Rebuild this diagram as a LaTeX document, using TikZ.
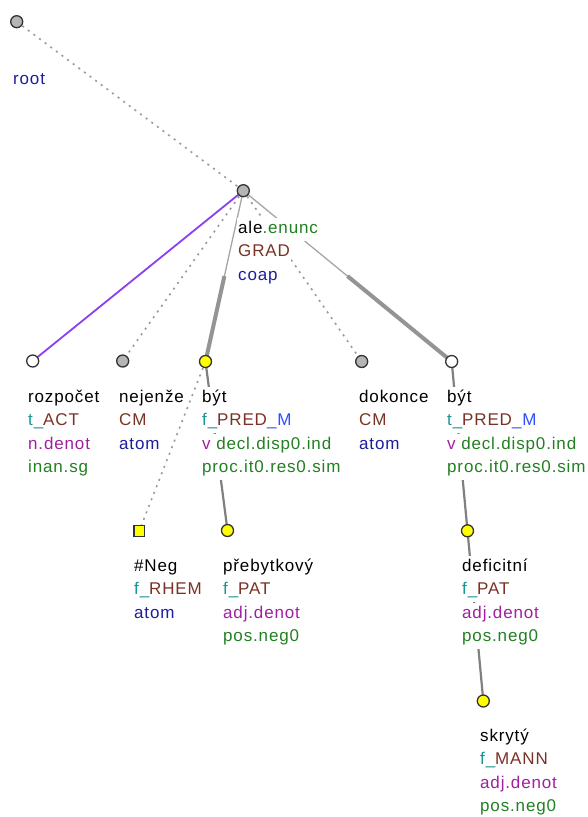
\documentclass[tikz,border=0pt]{standalone}
\usepackage{fontspec}
\setmainfont[LetterSpace=5.0]{Liberation Sans}
\usetikzlibrary{calc}
\definecolor{cteal}{HTML}{1A9494}
\definecolor{cbrown}{HTML}{7A3226}
\definecolor{cnavy}{HTML}{1E1E9C}
\definecolor{cpurple}{HTML}{A020A0}
\definecolor{cgreen}{HTML}{238023}
\definecolor{cblue}{HTML}{2F4FFF}
\definecolor{cedge}{HTML}{8A3FF0}
\definecolor{cgfill}{HTML}{B5B5B5}
\definecolor{cyfill}{HTML}{FFFF00}
\pgfdeclarelayer{bg}
\pgfsetlayers{bg,main}
\begin{document}
\begin{tikzpicture}[x=1pt,y=-1pt,
  tnode/.style={circle,minimum size=12pt,inner sep=0pt,draw=black!80,line width=1.3pt},
  gnode/.style={tnode,fill=cgfill},
  wnode/.style={tnode,fill=white},
  ynode/.style={tnode,fill=cyfill},
  ysq/.style={rectangle,minimum size=10.5pt,inner sep=0pt,draw=black!80,line width=1.2pt,fill=cyfill},
  lbl/.style={anchor=base west,fill=white,inner xsep=1pt,inner ysep=2.5pt,text height=13pt,text depth=5pt,font=\fontsize{17}{20}\selectfont},
  dotedge/.style={draw=black!40,line width=1.6pt,dash pattern=on 2pt off 5pt},
  purpedge/.style={draw=cedge,line width=1.8pt},
  thinedge/.style={draw=black!35,line width=1.3pt},
  thickedge/.style={draw=black!42,line width=4pt},
  medge/.style={draw=black!50,line width=2.2pt}
]
\useasboundingbox (0,0) rectangle (588,817);
% tree nodes
\node[gnode] (root) at (16.7,21.7) {};
\node[gnode] (ale) at (243.3,190.7) {};
\node[wnode] (roz) at (32.7,361) {};
\node[gnode] (nej) at (122.7,361) {};
\node[ynode] (byt1) at (205.5,361.5) {};
\node[gnode] (dok) at (361.7,361.5) {};
\node[wnode] (byt2) at (451.7,361.5) {};
\node[ysq] (neg) at (139.2,531) {};
\node[ynode] (preb) at (227.5,530.5) {};
\node[ynode] (def) at (467.5,530.8) {};
\node[ynode] (skr) at (483.3,701) {};
% edges
\begin{pgfonlayer}{bg}
\fill[white] (0,0) rectangle (588,817);
\draw[dotedge] (root.center) -- (ale.center);
\draw[purpedge] (ale.center) -- (roz.center);
\draw[dotedge] (ale.center) -- (nej.center);
\coordinate (m1) at ($(ale)!0.5!(byt1)$);
\draw[thinedge] (ale.center) -- (m1);
\draw[thickedge] (m1) -- (byt1.center);
\draw[dotedge] (ale.center) -- (dok.center);
\coordinate (m2) at ($(ale)!0.5!(byt2)$);
\draw[thinedge] (ale.center) -- (m2);
\draw[thickedge] (m2) -- (byt2.center);
\draw[dotedge] (byt1.center) -- (neg.center);
\draw[medge] (byt1.center) -- (preb.center);
\draw[medge] (byt2.center) -- (def.center);
\draw[medge] (def.center) -- (skr.center);
\end{pgfonlayer}
% labels
\node[lbl] (lroot) at (12,84) {\color{cnavy}root};
\node[lbl] (lale1) at (237,233) {ale{\color{cgreen}.enunc}};
\node[lbl] (lale2) at (237,256.5) {\color{cbrown}GRAD};
\node[lbl] (lale3) at (237,280) {\color{cnavy}coap};
% row 1
\node[lbl] (lroz1) at (27,402) {rozpočet};
\node[lbl] (lroz2) at (27,425.5) {{\color{cteal}t\_}{\color{cbrown}ACT}};
\node[lbl] (lroz3) at (27,449) {\color{cpurple}n.denot};
\node[lbl] (lroz4) at (27,472.5) {\color{cgreen}inan.sg};
\node[lbl] (lnej1) at (118,402) {nejenže};
\node[lbl] (lnej2) at (118,425.5) {\color{cbrown}CM};
\node[lbl] (lnej3) at (118,449) {\color{cnavy}atom};
\node[lbl] (lbya1) at (201,402) {být};
\node[lbl] (lbya2) at (201,425.5) {{\color{cteal}f\_}{\color{cbrown}PRED}{\color{cblue}\_M}};
\node[lbl] (lbya3) at (201,449) {{\color{cpurple}v} {\color{cgreen}decl.disp0.ind}};
\node[lbl] (lbya4) at (201,472.5) {\color{cgreen}proc.it0.res0.sim};
\node[lbl] (ldok1) at (358,402) {dokonce};
\node[lbl] (ldok2) at (358,425.5) {\color{cbrown}CM};
\node[lbl] (ldok3) at (358,449) {\color{cnavy}atom};
\node[lbl] (lbyb1) at (446,402) {být};
\node[lbl] (lbyb2) at (446,425.5) {{\color{cteal}t\_}{\color{cbrown}PRED}{\color{cblue}\_M}};
\node[lbl] (lbyb3) at (446,449) {{\color{cpurple}v} {\color{cgreen}decl.disp0.ind}};
\node[lbl] (lbyb4) at (446,472.5) {\color{cgreen}proc.it0.res0.sim};
% row 2
\node[lbl] (lneg1) at (133,571) {\#Neg};
\node[lbl] (lneg2) at (133,594.5) {{\color{cteal}f\_}{\color{cbrown}RHEM}};
\node[lbl] (lneg3) at (133,618) {\color{cnavy}atom};
\node[lbl] (lpre1) at (222,571) {přebytkový};
\node[lbl] (lpre2) at (222,594.5) {{\color{cteal}f\_}{\color{cbrown}PAT}};
\node[lbl] (lpre3) at (222,618) {\color{cpurple}adj.denot};
\node[lbl] (lpre4) at (222,641.5) {\color{cgreen}pos.neg0};
\node[lbl] (ldef1) at (461,571) {deficitní};
\node[lbl] (ldef2) at (461,594.5) {{\color{cteal}f\_}{\color{cbrown}PAT}};
\node[lbl] (ldef3) at (461,618) {\color{cpurple}adj.denot};
\node[lbl] (ldef4) at (461,641.5) {\color{cgreen}pos.neg0};
% row 3
\node[lbl] (lskr1) at (479,741) {skrytý};
\node[lbl] (lskr2) at (479,764.5) {{\color{cteal}f\_}{\color{cbrown}MANN}};
\node[lbl] (lskr3) at (479,788) {\color{cpurple}adj.denot};
\node[lbl] (lskr4) at (479,811.5) {\color{cgreen}pos.neg0};
\end{tikzpicture}
\end{document}
